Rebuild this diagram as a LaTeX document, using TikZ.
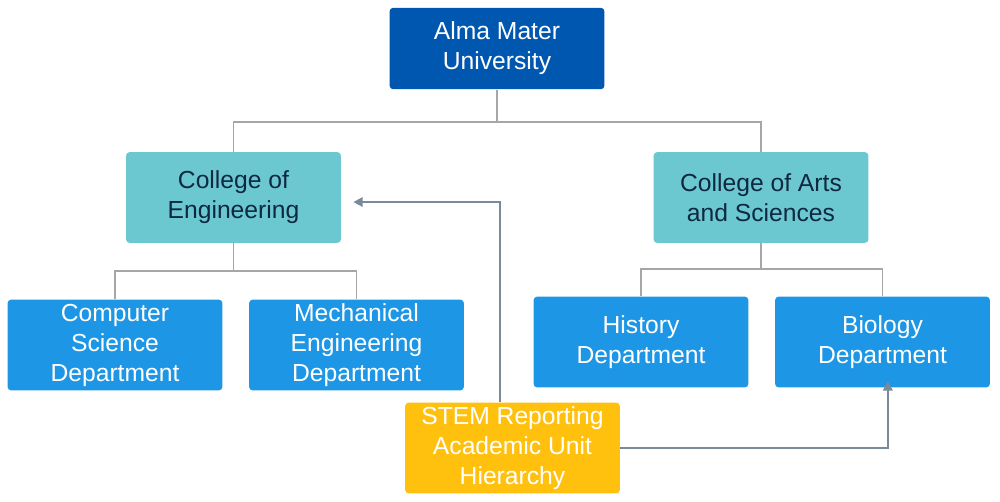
\documentclass[tikz,border=0pt]{standalone}
\usepackage{fontspec}
\setmainfont{Liberation Sans}
\usetikzlibrary{arrows.meta}

\definecolor{uniblue}{RGB}{0,87,176}
\definecolor{collteal}{RGB}{108,200,208}
\definecolor{deptblue}{RGB}{30,150,230}
\definecolor{stemgold}{RGB}{255,192,14}
\definecolor{navytext}{RGB}{14,40,65}
\definecolor{treegrey}{RGB}{166,166,166}
\definecolor{linkslate}{RGB}{122,138,153}

\tikzset{every picture/.style={line width=0.75pt}}
\tikzset{
  unitbox/.style={rounded corners=2.5pt, align=center, inner sep=0pt,
    minimum width=161pt, minimum height=68pt,
    font=\fontsize{18.5}{22.5}\selectfont},
  univbox/.style={unitbox, fill=uniblue, text=white, minimum height=61pt},
  collbox/.style={unitbox, fill=collteal, text=navytext},
  deptbox/.style={unitbox, fill=deptblue, text=white},
  stembox/.style={unitbox, fill=stemgold, text=white},
  tree/.style={draw=treegrey, line width=1.4pt},
  link/.style={draw=linkslate, line width=2pt, -{Triangle[length=7pt,width=7pt]}}
}

\begin{document}
\begin{tikzpicture}[x=0.75pt,y=0.75pt,yscale=-1,xscale=1]
%set diagram size to 1000 x 501
\useasboundingbox (0,0) rectangle (1000,501);

% University
\node [univbox] (alma) at (497,48.5) {Alma Mater\\University};
% Colleges
\node [collbox] (coe) at (233.5,197.5) {College of\\Engineering};
\node [collbox] (coas) at (761,197.5) {College of Arts\\and Sciences};
% Departments
\node [deptbox] (csdept) at (115,345) {Computer\\Science\\Department};
\node [deptbox] (medept) at (356.5,345) {Mechanical\\Engineering\\Department};
\node [deptbox] (histdept) at (641,342) {History\\Department};
\node [deptbox] (biodept) at (882.5,342) {Biology\\Department};
% STEM unit
\node [stembox] (stem) at (512.5,448) {STEM Reporting\\Academic Unit\\Hierarchy};

% Tree lines
\draw [tree] (alma.south) -- ++(0,32) -| (coe.north);
\draw [tree] (alma.south) -- ++(0,32) -| (coas.north);
\draw [tree] (coe.south) -- ++(0,28) -| (csdept.north);
\draw [tree] (coe.south) -- ++(0,28) -| (medept.north);
\draw [tree] (coas.south) -- ++(0,26) -| (histdept.north);
\draw [tree] (coas.south) -- ++(0,26) -| (biodept.north);

% STEM links
\draw [link] ([xshift=-9.4pt]stem.north) |- ([xshift=9pt,yshift=3.4pt]coe.east);
\draw [link] (stem.east) -| ([xshift=4pt,yshift=-5pt]biodept.south);

\end{tikzpicture}
\end{document}
